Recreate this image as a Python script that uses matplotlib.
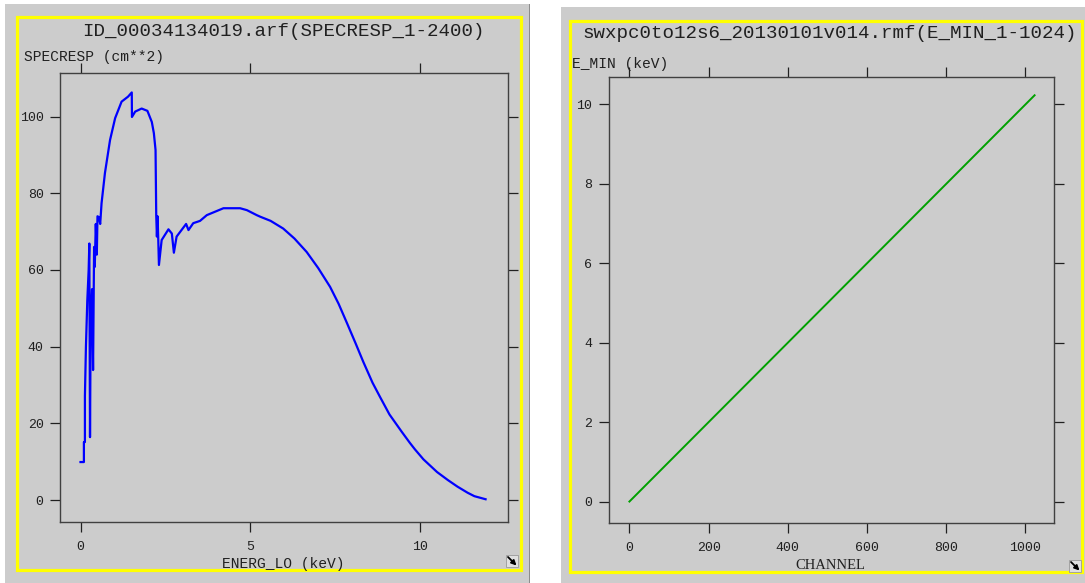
import matplotlib
matplotlib.use("Agg")
import matplotlib.pyplot as plt
from matplotlib.patches import Rectangle, FancyArrowPatch

W, H = 1085, 583

# ARF effective area (SPECRESP vs ENERG_LO)
energ_lo = [0.00, 0.10, 0.10, 0.13, 0.13, 0.16, 0.20, 0.24, 0.26, 0.28, 0.30,
            0.34, 0.37, 0.40, 0.42, 0.45, 0.48, 0.50, 0.54, 0.58, 0.62, 0.72,
            0.87, 1.02, 1.21, 1.40, 1.51, 1.515, 1.61, 1.80, 1.97, 2.10, 2.16,
            2.21, 2.23, 2.25, 2.27, 2.29, 2.31, 2.39, 2.59, 2.69, 2.75, 2.83,
            3.11, 3.18, 3.32, 3.52, 3.72, 4.21, 4.70, 4.90, 5.19, 5.29, 5.60,
            5.97, 6.30, 6.66, 7.00, 7.35, 7.60, 7.84, 8.10, 8.33, 8.60, 8.82,
            9.10, 9.46, 9.70, 9.85, 10.10, 10.50, 10.82, 11.10, 11.40, 11.60,
            11.93]
specresp = [9.9, 9.9, 15.1, 15.1, 27.1, 40.0, 52.0, 60.0, 66.9, 16.4, 48.0,
            55.0, 33.9, 66.0, 60.8, 72.0, 64.0, 74.0, 73.8, 72.0, 77.4, 85.3,
            93.9, 99.6, 103.9, 105.2, 106.3, 99.9, 101.3, 102.1, 101.5, 98.6, 95.7,
            91.3, 74.3, 68.7, 74.0, 68.0, 61.3, 67.8, 70.6, 69.5, 64.5, 68.7,
            72.0, 70.4, 72.2, 72.8, 74.3, 76.1, 76.1, 75.6, 74.3, 73.9, 72.8,
            70.8, 68.2, 64.7, 60.5, 55.6, 51.2, 46.3, 40.9, 36.0, 30.6, 26.9,
            22.3, 17.8, 14.9, 13.2, 10.6, 7.3, 5.2, 3.5, 1.9, 1.0,
            0.2]

# RMF channel boundaries (E_MIN vs CHANNEL), a straight line end to end
channel = [0, 1023]
e_min = [0.00, 10.23]

left_xticks = [0, 5, 10]
left_yticks = [0, 20, 40, 60, 80, 100]
right_xticks = [0, 200, 400, 600, 800, 1000]
right_yticks = [0, 2, 4, 6, 8, 10]

MONO = ["Liberation Mono", "DejaVu Sans Mono"]
PANEL = "#cccccc"


def fx(x):
    return x / W


def fy(y):
    return 1 - y / H


def px_rect(x0, y0, x1, y1):
    return [fx(x0), fy(y1), (x1 - x0) / W, (y1 - y0) / H]


fig = plt.figure(figsize=(W / 100, H / 100), dpi=100)
fig.patch.set_facecolor("white")

# grey window backgrounds and yellow frames (kept under the axes)
fig.patches.append(Rectangle((fx(5), 0), fx(529) - fx(5), fy(4),
                             transform=fig.transFigure, facecolor=PANEL,
                             edgecolor="none", zorder=-3))
fig.patches.append(Rectangle((fx(528.5), 0), fx(1.2), fy(4),
                             transform=fig.transFigure, facecolor="#8c8c8c",
                             edgecolor="none", zorder=-3))
fig.patches.append(Rectangle((fx(561), 0), fx(1085) - fx(561), fy(7),
                             transform=fig.transFigure, facecolor=PANEL,
                             edgecolor="none", zorder=-3))
for x0, y0, x1, y1 in [(17, 17, 521, 570), (570, 21, 1082, 572)]:
    fig.patches.append(Rectangle((fx(x0), fy(y1)), fx(x1) - fx(x0), fy(y0) - fy(y1),
                                 transform=fig.transFigure, facecolor="none",
                                 edgecolor="#ffff00", linewidth=2.3, zorder=-2))

# small resize icons in the lower right corners
for x0, y0 in [(506, 555), (1069, 560)]:
    fig.patches.append(Rectangle((fx(x0), fy(y0 + 12)), fx(12), 12 / H,
                                 transform=fig.transFigure, facecolor="#e0e0e0",
                                 edgecolor="#9a9a9a", linewidth=0.6, zorder=2))
    fig.patches.append(FancyArrowPatch((fx(x0 + 2), fy(y0 + 2)),
                                       (fx(x0 + 10.5), fy(y0 + 10.5)),
                                       transform=fig.transFigure, arrowstyle="-|>",
                                       mutation_scale=7, shrinkA=0, shrinkB=0,
                                       color="black", linewidth=1.3, zorder=3))


def style_axes(ax, xticks, yticks):
    ax.set_facecolor(PANEL)
    for s in ax.spines.values():
        s.set_color("#404040")
        s.set_linewidth(1.0)
    ax.set_xticks(xticks)
    ax.set_yticks(yticks)
    ax.tick_params(direction="out", length=7, width=0.9, color="#202020",
                   top=True, right=True, labeltop=False, labelright=False,
                   labelsize=9.5, labelcolor="#202020")
    ax.tick_params(axis="x", pad=7)
    ax.tick_params(axis="y", pad=5)
    for lab in ax.get_xticklabels() + ax.get_yticklabels():
        lab.set_family(MONO)


ax1 = fig.add_axes(px_rect(60.3, 72.5, 508, 521.6))
ax1.plot(energ_lo, specresp, color="#0000ff", linewidth=1.6)
ax1.set_xlim(-0.595, 12.59)
ax1.set_ylim(-5.63, 111.5)
style_axes(ax1, left_xticks, left_yticks)

ax2 = fig.add_axes(px_rect(608.7, 77, 1054, 523))
ax2.plot(channel, e_min, color="#00a000", linewidth=1.4)
ax2.set_xlim(-52.3, 1072)
ax2.set_ylim(-0.54, 10.69)
style_axes(ax2, right_xticks, right_yticks)

# titles and axis labels
fig.text(fx(283.6), fy(31), "ID_00034134019.arf(SPECRESP_1-2400)",
         ha="center", va="center", fontsize=13.8, family=MONO, color="#202020")
fig.text(fx(24), fy(56.8), "SPECRESP (cm**2)", ha="left", va="center",
         fontsize=10.5, family=MONO, color="#202020")
fig.text(fx(283), fy(563.6), "ENERG_LO (keV)", ha="center", va="center",
         fontsize=10.5, family=MONO, color="#202020")

fig.text(fx(830), fy(34), "swxpc0to12s6_20130101v014.rmf(E_MIN_1-1024)",
         ha="center", va="center", fontsize=13.8, family=MONO, color="#202020")
fig.text(fx(572.5), fy(63.7), "E_MIN (keV)", ha="left", va="center",
         fontsize=10.5, family=MONO, color="#202020")
fig.text(fx(830.8), fy(565.4), "CHANNEL", ha="center", va="center",
         fontsize=10.5, family=["Liberation Serif", "DejaVu Serif"], color="#202020")

fig.savefig("out.png", dpi=100, facecolor=fig.get_facecolor())
